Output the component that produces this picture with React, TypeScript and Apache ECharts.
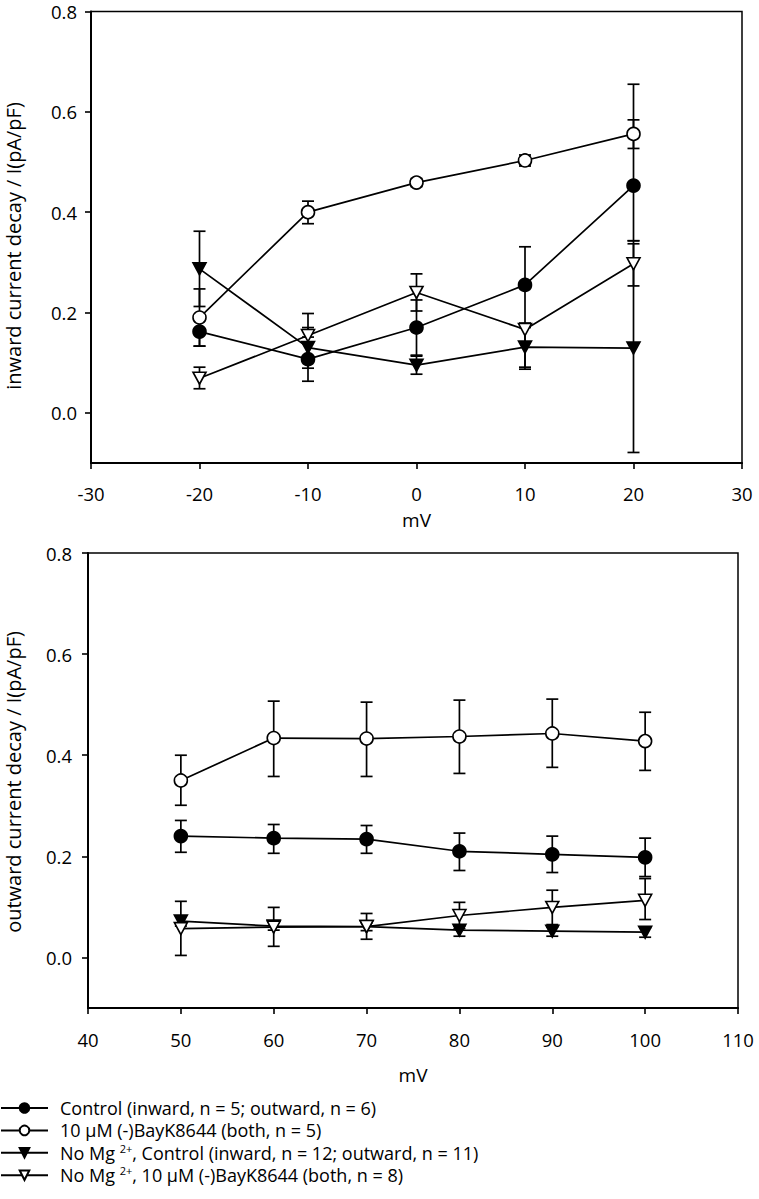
import React, { useEffect, useRef } from "react";
import * as echarts from "echarts";

// ---------- data ----------
const inwardX = [-20, -10, 0, 10, 20];
const outwardX = [50, 60, 70, 80, 90, 100];
const yTicks = [0, 0.2, 0.4, 0.6, 0.8];

const seriesNames = [
  "Control (inward, n = 5; outward, n = 6)",
  "10 μM (-)BayK8644 (both, n = 5)",
  "No Mg2+, Control (inward, n = 12; outward, n = 11)",
  "No Mg2+, 10 μM (-)BayK8644 (both, n = 8)",
];
const legendLabels = [
  "Control (inward, n = 5; outward, n = 6)",
  "10 μM (-)BayK8644 (both, n = 5)",
  "No Mg {sup|2+}, Control (inward, n = 12; outward, n = 11)",
  "No Mg {sup|2+}, 10 μM (-)BayK8644 (both, n = 8)",
];

// inward current decay
const inControl = [0.162, 0.107, 0.17, 0.255, 0.453];
const inControlLo = [0.133, 0.063, 0.115, 0.179, 0.343];
const inControlHi = [0.192, 0.151, 0.225, 0.331, 0.584];
const inBay = [0.19, 0.4, 0.459, 0.503, 0.556];
const inBayLo = [0.133, 0.377, 0.451, 0.492, 0.527];
const inBayHi = [0.247, 0.422, 0.467, 0.514, 0.655];
const inNoMg = [0.287, 0.13, 0.095, 0.131, 0.129];
const inNoMgLo = [0.212, 0.089, 0.077, 0.091, -0.079];
const inNoMgHi = [0.362, 0.17, 0.113, 0.17, 0.337];
const inNoMgBay = [0.069, 0.154, 0.24, 0.166, 0.297];
const inNoMgBayLo = [0.048, 0.11, 0.203, 0.087, 0.253];
const inNoMgBayHi = [0.091, 0.198, 0.277, 0.175, 0.343];

// outward current decay
const outControl = [0.24, 0.236, 0.234, 0.21, 0.204, 0.198];
const outControlLo = [0.208, 0.206, 0.206, 0.172, 0.168, 0.16];
const outControlHi = [0.271, 0.263, 0.261, 0.246, 0.24, 0.236];
const outBay = [0.35, 0.434, 0.433, 0.437, 0.443, 0.428];
const outBayLo = [0.301, 0.358, 0.358, 0.364, 0.376, 0.37];
const outBayHi = [0.4, 0.507, 0.505, 0.509, 0.511, 0.485];
const outNoMg = [0.072, 0.062, 0.061, 0.054, 0.052, 0.05];
const outNoMgLo = [0.062, 0.054, 0.053, 0.042, 0.042, 0.04];
const outNoMgHi = [0.082, 0.07, 0.069, 0.062, 0.06, 0.058];
const outNoMgBay = [0.057, 0.06, 0.061, 0.083, 0.099, 0.113];
const outNoMgBayLo = [0.004, 0.022, 0.036, 0.057, 0.065, 0.075];
const outNoMgBayHi = [0.111, 0.099, 0.087, 0.109, 0.133, 0.156];

// ---------- styling helpers ----------
const FONT = "Open Sans";
const TICK_FS = 18.5;
const markerStyles = [
  { symbol: "circle", size: 13, rotate: 0, fill: "#000" },
  { symbol: "circle", size: 13, rotate: 0, fill: "#fff" },
  { symbol: "triangle", size: [13, 12], rotate: 180, fill: "#000" },
  { symbol: "triangle", size: [13, 12], rotate: 180, fill: "#fff" },
];

function lineSeries(idx: number, xs: number[], ys: number[], axis: number) {
  const m = markerStyles[idx];
  return {
    type: "line",
    name: seriesNames[idx],
    xAxisIndex: axis,
    yAxisIndex: axis,
    z: 3,
    data: xs.map((x, i) => [x, ys[i]]),
    symbol: m.symbol,
    symbolSize: m.size,
    symbolRotate: m.rotate,
    showAllSymbol: true,
    itemStyle: { color: m.fill, borderColor: "#000", borderWidth: 1.6, opacity: 1 },
    lineStyle: { color: "#000", width: 1.7 },
    emphasis: { disabled: true },
  };
}

function errSeries(idx: number, xs: number[], lo: number[], hi: number[], axis: number) {
  return {
    type: "custom",
    name: seriesNames[idx] + " error",
    xAxisIndex: axis,
    yAxisIndex: axis,
    z: 2,
    silent: true,
    data: xs.map((x, i) => [x, lo[i], hi[i]]),
    encode: { x: 0, y: [1, 2] },
    renderItem: (params: any, api: any) => {
      const x = api.value(0);
      const pLo = api.coord([x, api.value(1)]);
      const pHi = api.coord([x, api.value(2)]);
      const hw = 6;
      const style = { stroke: "#000", lineWidth: 1.7 };
      return {
        type: "group",
        children: [
          { type: "line", shape: { x1: pLo[0], y1: pLo[1], x2: pHi[0], y2: pHi[1] }, style },
          { type: "line", shape: { x1: pLo[0] - hw, y1: pLo[1], x2: pLo[0] + hw, y2: pLo[1] }, style },
          { type: "line", shape: { x1: pHi[0] - hw, y1: pHi[1], x2: pHi[0] + hw, y2: pHi[1] }, style },
        ],
      };
    },
  };
}

function xAxisCfg(gridIndex: number, min: number, max: number, gap: number, margin: number) {
  return {
    type: "value",
    gridIndex,
    min,
    max,
    interval: 10,
    name: "mV",
    nameLocation: "middle",
    nameGap: gap,
    nameTextStyle: { fontFamily: FONT, fontSize: 19, lineHeight: 19, color: "#000" },
    axisLine: { show: true, onZero: false, lineStyle: { color: "#000", width: 2 } },
    axisTick: { show: true, inside: false, length: 6, lineStyle: { color: "#000", width: 1.6 } },
    axisLabel: { fontFamily: FONT, fontSize: TICK_FS, lineHeight: TICK_FS, color: "#000", margin },
    splitLine: { show: false },
  };
}

function yAxisCfg(gridIndex: number, margin: number) {
  return {
    type: "value",
    gridIndex,
    min: -0.1,
    max: 0.8,
    axisLine: { show: true, onZero: false, lineStyle: { color: "#000", width: 2 } },
    axisTick: {
      show: true,
      inside: false,
      length: 6,
      customValues: yTicks,
      lineStyle: { color: "#000", width: 1.6 },
    },
    axisLabel: {
      fontFamily: FONT,
      fontSize: TICK_FS,
      lineHeight: 17,
      color: "#000",
      margin,
      customValues: yTicks,
      formatter: (v: number) => v.toFixed(1),
    },
    splitLine: { show: false },
  };
}

export default function App() {
  const ref = useRef<HTMLDivElement>(null);
  useEffect(() => {
    if (!ref.current) return;
    const chart = echarts.init(ref.current, undefined, { renderer: "svg" });
    const option: any = {
      animation: false,
      backgroundColor: "#fff",
      textStyle: { fontFamily: FONT },
      grid: [
        { left: 91, top: 11.5, width: 651, height: 451.5, show: true, borderColor: "#000", borderWidth: 1.5, backgroundColor: "transparent" },
        { left: 88, top: 553, width: 650, height: 455, show: true, borderColor: "#000", borderWidth: 1.5, backgroundColor: "transparent" },
      ],
      xAxis: [xAxisCfg(0, -30, 30, 47.5, 21.5), xAxisCfg(1, 40, 110, 57, 22)],
      yAxis: [yAxisCfg(0, 14), yAxisCfg(1, 16)],
      legend: {
        orient: "vertical",
        left: 0,
        top: 1098,
        padding: 0,
        itemGap: 2.4,
        itemWidth: 47,
        itemHeight: 12,
        selectedMode: false,
        data: seriesNames,
        formatter: (name: string) => legendLabels[seriesNames.indexOf(name)],
        textStyle: {
          fontFamily: FONT,
          fontSize: 18,
          color: "#000",
          lineHeight: 20,
          padding: [0, 0, 0, 7],
          rich: {
            sup: { fontFamily: FONT, fontSize: 11, lineHeight: 14, verticalAlign: "top", color: "#000" },
          },
        },
      },
      graphic: [
        {
          type: "text",
          x: 13,
          y: 246,
          rotation: Math.PI / 2,
          style: {
            text: "inward current decay / I(pA/pF)",
            fontFamily: FONT,
            fontSize: 20,
            fill: "#000",
            align: "center",
            verticalAlign: "middle",
          },
        },
        {
          type: "text",
          x: 13,
          y: 782,
          rotation: Math.PI / 2,
          style: {
            text: "outward current decay / I(pA/pF)",
            fontFamily: FONT,
            fontSize: 20,
            fill: "#000",
            align: "center",
            verticalAlign: "middle",
          },
        },
      ],
      series: [
        errSeries(0, inwardX, inControlLo, inControlHi, 0),
        errSeries(1, inwardX, inBayLo, inBayHi, 0),
        errSeries(2, inwardX, inNoMgLo, inNoMgHi, 0),
        errSeries(3, inwardX, inNoMgBayLo, inNoMgBayHi, 0),
        lineSeries(0, inwardX, inControl, 0),
        lineSeries(1, inwardX, inBay, 0),
        lineSeries(2, inwardX, inNoMg, 0),
        lineSeries(3, inwardX, inNoMgBay, 0),
        errSeries(0, outwardX, outControlLo, outControlHi, 1),
        errSeries(1, outwardX, outBayLo, outBayHi, 1),
        errSeries(2, outwardX, outNoMgLo, outNoMgHi, 1),
        errSeries(3, outwardX, outNoMgBayLo, outNoMgBayHi, 1),
        lineSeries(0, outwardX, outControl, 1),
        lineSeries(1, outwardX, outBay, 1),
        lineSeries(2, outwardX, outNoMg, 1),
        lineSeries(3, outwardX, outNoMgBay, 1),
      ],
    };
    chart.setOption(option);
    return () => chart.dispose();
  }, []);
  return (
    <div
      ref={ref}
      style={{ position: "absolute", left: 0, top: 0, width: 759, height: 1199, background: "#fff" }}
    />
  );
}
